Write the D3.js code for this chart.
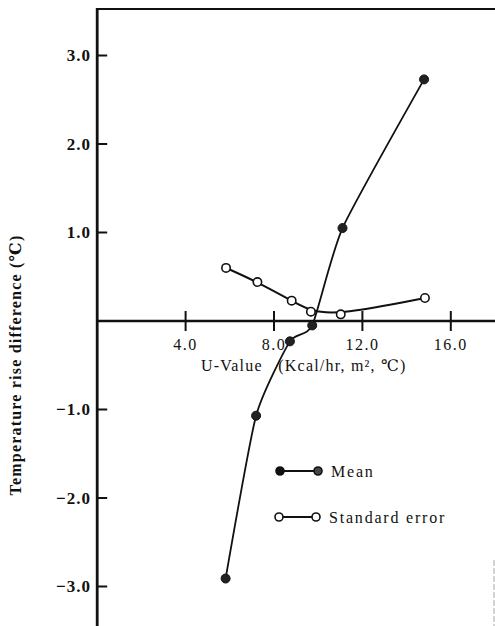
<!DOCTYPE html>
<html>
<head>
<meta charset="utf-8">
<script src="https://cdn.jsdelivr.net/npm/d3@7"></script>
<style>
  body { margin: 0; background: #fff; }
  svg { display: block; }
  text { font-family: "Liberation Serif", "DejaVu Serif", serif; fill: #111; }
</style>
</head>
<body>
<div id="chart"></div>
<script>
// values
const meanU = [5.81, 7.19, 8.72, 9.73, 11.1, 14.79];
const meanDiff = [-2.91, -1.07, -0.23, -0.05, 1.05, 2.73];
const seU = [5.83, 7.25, 8.8, 9.67, 11.02, 14.83];
const seDiff = [0.60, 0.44, 0.23, 0.105, 0.075, 0.26];
const xTicks = [4, 8, 12, 16];
const yTicks = [-3, -2, -1, 1, 2, 3];

const W = 495, H = 626;
const svg = d3.select('#chart').append('svg').attr('width', W).attr('height', H);

const x = d3.scaleLinear().domain([0, 18]).range([97.2, 495]);
const y = d3.scaleLinear().domain([-3, 3]).range([586.5, 55.5]);
const topY = 9;

// frame: top border, left axis, faint right edge
svg.append('line').attr('x1', x(0)).attr('x2', W).attr('y1', topY).attr('y2', topY)
  .attr('stroke', '#111').attr('stroke-width', 2.2);
svg.append('line').attr('x1', x(0)).attr('x2', x(0)).attr('y1', topY - 1).attr('y2', H)
  .attr('stroke', '#111').attr('stroke-width', 2.8);
svg.append('line').attr('x1', 494).attr('x2', 494).attr('y1', 560).attr('y2', H)
  .attr('stroke', '#aaa').attr('stroke-width', 1).attr('stroke-dasharray', '6,2');

// x axis along zero
svg.append('line').attr('x1', x(0)).attr('x2', W).attr('y1', y(0)).attr('y2', y(0))
  .attr('stroke', '#111').attr('stroke-width', 2.4);
svg.append('g').selectAll('line').data(xTicks).join('line')
  .attr('x1', d => x(d)).attr('x2', d => x(d))
  .attr('y1', y(0) - 10).attr('y2', y(0) + 10)
  .attr('stroke', '#111').attr('stroke-width', 2);
svg.append('g').selectAll('text').data(xTicks).join('text')
  .attr('x', d => x(d)).attr('y', y(0) + 29)
  .attr('text-anchor', 'middle')
  .style('font-size', '16px').style('letter-spacing', '1.5px')
  .text(d => d.toFixed(1));
svg.append('text').attr('x', 201).attr('y', y(0) + 50)
  .style('font-size', '16px').style('letter-spacing', '1.2px')
  .text('U-Value\u00a0\u00a0\u00a0(Kcal/hr, m², ℃)');

// y ticks
svg.append('g').selectAll('line').data(yTicks).join('line')
  .attr('x1', x(0)).attr('x2', x(0) + 10)
  .attr('y1', d => y(d)).attr('y2', d => y(d))
  .attr('stroke', '#111').attr('stroke-width', 2);
svg.append('g').selectAll('text').data(yTicks).join('text')
  .attr('x', 91).attr('y', d => y(d)).attr('dy', '0.35em')
  .attr('text-anchor', 'end')
  .style('font-size', '17px').style('font-weight', 'bold').style('letter-spacing', '1px')
  .text(d => (d < 0 ? '\u2212' : '') + Math.abs(d).toFixed(1));
svg.append('text')
  .attr('transform', `translate(21,365) rotate(-90)`)
  .attr('text-anchor', 'middle')
  .style('font-size', '16px').style('font-weight', 'bold').style('letter-spacing', '1.2px')
  .text('Temperature rise difference (℃)');

// curves
const meanPts = meanU.map((u, i) => [u, meanDiff[i]]);
const sePts = seU.map((u, i) => [u, seDiff[i]]);
svg.append('path').datum(sePts)
  .attr('d', d3.line().x(d => x(d[0])).y(d => y(d[1])).curve(d3.curveBasis))
  .attr('fill', 'none').attr('stroke', '#111').attr('stroke-width', 2);
svg.append('path').datum(meanPts)
  .attr('d', d3.line().x(d => x(d[0])).y(d => y(d[1])).curve(d3.curveCardinal.tension(0.45)))
  .attr('fill', 'none').attr('stroke', '#111').attr('stroke-width', 1.8);

svg.append('g').selectAll('circle').data(sePts).join('circle')
  .attr('cx', d => x(d[0])).attr('cy', d => y(d[1])).attr('r', 4.2)
  .attr('fill', '#fff').attr('stroke', '#111').attr('stroke-width', 1.6);
svg.append('g').selectAll('circle').data(meanPts).join('circle')
  .attr('cx', d => x(d[0])).attr('cy', d => y(d[1])).attr('r', 4.5)
  .attr('fill', '#222').attr('stroke', '#111').attr('stroke-width', 1);

// legend
const legend = [
  {label: 'Mean', y: 471, x0: 280, x1: 318, fill0: '#111', fill1: '#444'},
  {label: 'Standard error', y: 517, x0: 279, x1: 316, fill0: '#fff', fill1: '#fff'}
];
const lg = svg.append('g').selectAll('g').data(legend).join('g');
lg.append('line').attr('x1', d => d.x0).attr('x2', d => d.x1).attr('y1', d => d.y).attr('y2', d => d.y)
  .attr('stroke', '#111').attr('stroke-width', 2);
lg.append('circle').attr('cx', d => d.x0).attr('cy', d => d.y).attr('r', 4)
  .attr('fill', d => d.fill0).attr('stroke', '#111').attr('stroke-width', 1.6);
lg.append('circle').attr('cx', d => d.x1).attr('cy', d => d.y).attr('r', 4)
  .attr('fill', d => d.fill1).attr('stroke', '#111').attr('stroke-width', 1.6);
lg.append('text').attr('x', d => d.x1 + 13).attr('y', d => d.y).attr('dy', '0.35em')
  .style('font-size', '16px').style('letter-spacing', '1.8px')
  .text(d => d.label);
</script>
</body>
</html>
